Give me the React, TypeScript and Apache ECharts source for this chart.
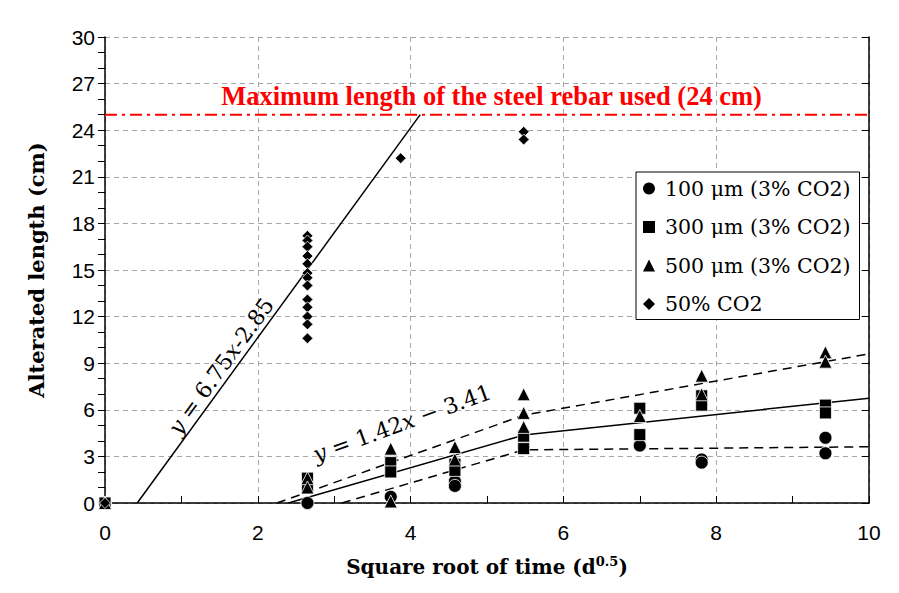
import React, { useEffect, useRef } from "react";
import * as echarts from "echarts";

// Square root of exposure time (d^0.5) for the 3% CO2 series
const times = [0, 2.65, 3.74, 4.58, 5.48, 7.0, 7.81, 9.43];
// Square root of exposure time for the 50% CO2 series
const co2Times = [0, 2.65, 3.87, 5.48];

// Alterated length (cm), grouped by time index
const um100 = [[0], [0], [0.4], [1.4, 1.1], [], [3.7], [2.8, 2.6], [4.2, 3.2]];
const um300 = [[0], [1.6, 1.0], [2.6, 2.0], [2.5, 2.1], [4.3, 3.5], [6.1, 4.4], [6.9, 6.3], [6.3, 5.8]];
const um500 = [[0], [1.6, 1.0], [3.5, 0.1], [3.6, 2.8], [7.0, 5.8, 4.9], [5.6], [8.2, 7.0], [9.7, 9.1]];
const co2_50 = [
  [0],
  [17.2, 16.9, 16.5, 15.9, 15.4, 14.8, 14.5, 14.0, 13.1, 12.6, 12.0, 11.5, 10.6],
  [22.2],
  [23.9, 23.4],
];

const seriesNames = ["100 μm (3% CO2)", "300 μm (3% CO2)", "500 μm (3% CO2)", "50% CO2"];
const seriesSymbols = ["circle", "rect", "triangle", "diamond"];
const seriesSizes = [13, 12, 13, 11];

// Trend lines
const steepFitX = [0.422, 4.126];
const steepFitY = [0, 25];
const midFitX = [2.4, 5.48, 10];
const midFitY = [0, 4.37, 6.75];
const upperFitX = [2.25, 5.48, 10];
const upperFitY = [0, 5.65, 9.6];
const lowerFitX = [3.1, 5.48, 10];
const lowerFitY = [0, 3.42, 3.62];

const maxRebarX = [0, 10];
const maxRebarY = [25, 25];

const xTicks = { min: 0, max: 10, interval: 2 };
const yTicks = { min: 0, max: 30, interval: 3 };

function toPairs(groups: number[][], xs: number[]) {
  const out: number[][] = [];
  groups.forEach((ys, i) => ys.forEach((y) => out.push([xs[i], y])));
  return out;
}
function zipXY(xs: number[], ys: number[]) {
  return xs.map((x, i) => [x, ys[i]]);
}

export default function App() {
  const ref = useRef<HTMLDivElement>(null);
  useEffect(() => {
    if (!ref.current) return;
    const chart = echarts.init(ref.current, null, { renderer: "svg" });
    const groups = [um100, um300, um500, co2_50];
    const groupTimes = [times, times, times, co2Times];
    const gridLine = { show: true, lineStyle: { color: "#a6a6a6", type: [5, 4] as any, width: 1 } };
    const option: any = {
      animation: false,
      backgroundColor: "#fff",
      grid: { left: 105, right: 30, top: 37, bottom: 90 },
      legend: {
        data: seriesNames.map((n, i) => ({ name: n, icon: seriesSymbols[i] })),
        orient: "vertical",
        left: 636,
        top: 172,
        backgroundColor: "#fff",
        borderColor: "#000",
        borderWidth: 1,
        borderRadius: 0,
        padding: [5, 9, 4, 7],
        itemWidth: 12,
        itemHeight: 12,
        itemGap: 15.5,
        selectedMode: false,
        itemStyle: { borderWidth: 0, opacity: 1, color: "#000" },
        textStyle: {
          color: "#000",
          fontFamily: "DejaVu Serif",
          fontSize: 20.5,
          lineHeight: 23,
          padding: [0, 0, 0, 5],
        },
      },
      xAxis: {
        type: "value",
        min: xTicks.min,
        max: xTicks.max,
        interval: xTicks.interval,
        name: "Square root of time (d{sup|0.5})",
        nameLocation: "middle",
        nameGap: 52,
        nameTextStyle: {
          color: "#000",
          fontFamily: "DejaVu Serif",
          fontWeight: "bold",
          fontSize: 20,
          rich: {
            sup: {
              fontFamily: "DejaVu Serif",
              fontWeight: "bold",
              fontSize: 13,
              color: "#000",
              verticalAlign: "top",
              padding: [0, 0, 10, 0],
            },
          },
        },
        axisLine: { lineStyle: { color: "#000", width: 1.5 } },
        axisTick: { show: true, inside: true, length: 7, lineStyle: { color: "#000" } },
        minorTick: { show: true, splitNumber: 2, length: 7, lineStyle: { color: "#000" } },
        axisLabel: { color: "#000", fontFamily: "Liberation Sans", fontSize: 21, margin: 19 },
        splitLine: gridLine,
      },
      yAxis: [
        {
          type: "value",
          min: yTicks.min,
          max: yTicks.max,
          interval: yTicks.interval,
          name: "Alterated length (cm)",
          nameLocation: "middle",
          nameRotate: 90,
          nameGap: 58,
          nameTextStyle: {
            color: "#000",
            fontFamily: "DejaVu Serif",
            fontWeight: "bold",
            fontSize: 21,
          },
          axisLine: { show: true, lineStyle: { color: "#000", width: 1.5 } },
          axisTick: { show: true, inside: false, length: 7, lineStyle: { color: "#000" } },
          minorTick: { show: true, splitNumber: 3, length: 7, lineStyle: { color: "#000" } },
          axisLabel: { color: "#000", fontFamily: "Liberation Sans", fontSize: 21, margin: 10 },
          splitLine: gridLine,
        },
        {
          type: "value",
          position: "right",
          min: yTicks.min,
          max: yTicks.max,
          interval: yTicks.interval,
          axisLine: { show: true, lineStyle: { color: "#000", width: 1.5 } },
          axisTick: { show: true, inside: true, length: 7, lineStyle: { color: "#000" } },
          axisLabel: { show: false },
          splitLine: { show: false },
        },
      ],
      series: [
        {
          type: "line",
          name: "maxRebar",
          data: zipXY(maxRebarX, maxRebarY),
          symbol: "none",
          lineStyle: { color: "#ff0000", width: 2, type: [12, 5, 3, 5] },
          z: 1,
          silent: true,
        },
        {
          type: "line",
          name: "steepFit",
          data: zipXY(steepFitX, steepFitY),
          symbol: "none",
          lineStyle: { color: "#000", width: 1.5 },
          z: 1,
          silent: true,
        },
        {
          type: "line",
          name: "midFit",
          data: zipXY(midFitX, midFitY),
          symbol: "none",
          lineStyle: { color: "#000", width: 1.5 },
          z: 1,
          silent: true,
        },
        {
          type: "line",
          name: "upperFit",
          data: zipXY(upperFitX, upperFitY),
          symbol: "none",
          lineStyle: { color: "#000", width: 1.5, type: [9, 6] },
          z: 1,
          silent: true,
        },
        {
          type: "line",
          name: "lowerFit",
          data: zipXY(lowerFitX, lowerFitY),
          symbol: "none",
          lineStyle: { color: "#000", width: 1.5, type: [9, 6] },
          z: 1,
          silent: true,
        },
        ...seriesNames.map((n, i) => ({
          type: "scatter",
          name: n,
          data: toPairs(groups[i], groupTimes[i]),
          symbol: seriesSymbols[i],
          symbolSize: seriesSizes[i],
          itemStyle: { color: "#000", borderColor: "#fff", borderWidth: 0.8, opacity: 1 },
          z: 3,
        })),
      ],
    };
    chart.setOption(option);

    const p1 = chart.convertToPixel({ gridIndex: 0 }, [1.52, 8.8]);
    const p2 = chart.convertToPixel({ gridIndex: 0 }, [3.89, 5.14]);
    const p3 = chart.convertToPixel({ gridIndex: 0 }, [5.06, 26.2]);
    const eqFont = { fontFamily: "DejaVu Serif", fontSize: 22, fill: "#000" };
    const rich = { i: { fontStyle: "italic", fontFamily: "DejaVu Serif", fontSize: 22 } };
    chart.setOption({
      graphic: [
        {
          type: "text",
          x: p1[0],
          y: p1[1],
          rotation: (54 * Math.PI) / 180,
          style: {
            text: "{i|y} = 6.75{i|x}-2.85",
            ...eqFont,
            align: "center",
            verticalAlign: "middle",
            rich,
          },
        },
        {
          type: "text",
          x: p2[0],
          y: p2[1],
          rotation: (20 * Math.PI) / 180,
          style: {
            text: "{i|y} = 1.42{i|x} − 3.41",
            ...eqFont,
            align: "center",
            verticalAlign: "middle",
            rich,
          },
        },
        {
          type: "text",
          x: p3[0],
          y: p3[1],
          style: {
            text: "Maximum length of the steel rebar used (24 cm)",
            fontFamily: "Liberation Serif",
            fontWeight: "bold",
            fontSize: 26.5,
            fill: "#ff0000",
            align: "center",
            verticalAlign: "middle",
          },
        },
      ],
    });
    return () => chart.dispose();
  }, []);
  return (
    <div
      ref={ref}
      style={{ position: "fixed", left: 0, top: 0, width: 899, height: 593, background: "#fff" }}
    />
  );
}
